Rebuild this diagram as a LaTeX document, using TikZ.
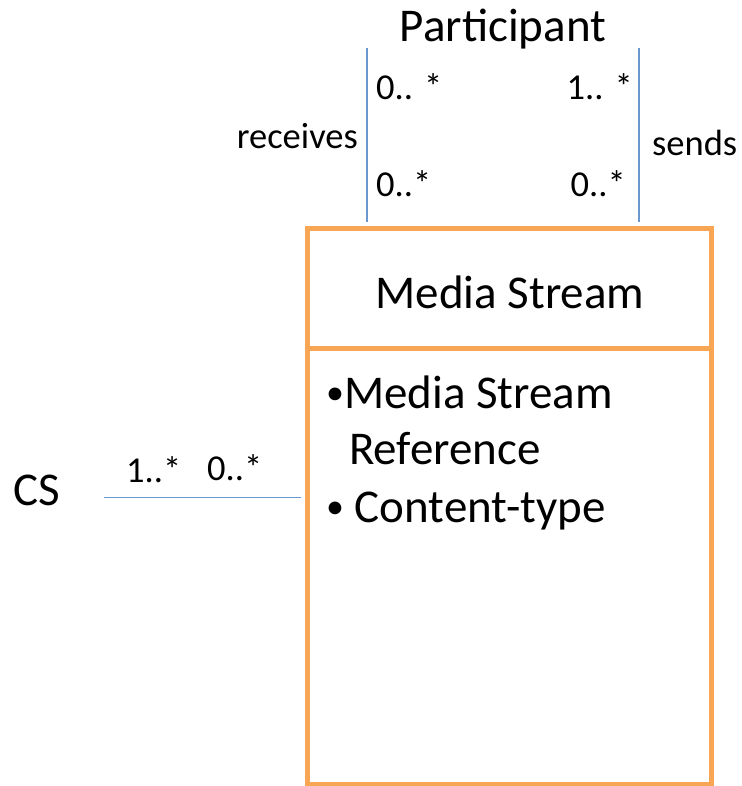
\documentclass[tikz,border=0pt]{standalone}
\usepackage{fontspec}
\setmainfont{Carlito}
\usetikzlibrary{positioning}
\definecolor{boxorange}{RGB}{249,166,84}
\definecolor{linkblue}{RGB}{106,152,206}

\newcommand{\dotitem}{\raisebox{4pt}{\fontsize{36}{36}\selectfont\textbullet}}

\begin{document}
\begin{tikzpicture}[x=1pt, y=-1pt]
      \tikzstyle{classname} = [
        font=\fontsize{47}{52}\selectfont,
        inner sep=0pt
      ]

      \tikzstyle{mult} = [
        font=\fontsize{36.5}{40}\selectfont,
        inner sep=0pt
      ]

      \tikzstyle{classbox} = [
        rectangle,
        draw=boxorange,
        line width=5pt,
        outer sep=0pt,
        minimum width=403.5pt,
        inner sep=0pt
      ]

      \tikzstyle{link} = [
        draw=linkblue,
        line width=1.7pt
      ]

      \useasboundingbox (0,0) rectangle (741,786);

      \node[classbox, minimum height=120pt] (header) at (509.25,288.5) {};
      \node[classbox, minimum height=435.5pt, below=0pt of header] (body) {};

      \node[classname, anchor=base] (title) at (510,308) {Media Stream};
      \node[classname, anchor=base west] (attr1) at (326,408) {\dotitem Media Stream};
      \node[classname, anchor=base west] (attr2) at (349,464) {Reference};
      \node[classname, anchor=base west] (attr3) at (326,522) {\dotitem\ Content-type};

      \node[classname, anchor=base] (participant) at (503,42) {Participant};
      \node[classname, anchor=base west] (cs) at (13,505) {CS};

      \coordinate (recvtop) at (367,48);
      \coordinate (recvbot) at (367,222);
      \coordinate (sendtop) at (639,48);
      \coordinate (sendbot) at (639,222);
      \coordinate (csend) at (104,497.5);

      \draw[link] (recvtop) -- (recvbot);
      \draw[link] (sendtop) -- (sendbot);
      \draw[link, shorten >=7pt] (csend) -- (body.west |- csend);

      \node[mult, anchor=base east] (receives) at (358,149) {receives};
      \node[mult, anchor=base west] (sends) at (652,156) {sends};
      \node[mult, anchor=base west] (recvpart) at (376,100) {0.. *};
      \node[mult, anchor=base west] (recvstream) at (376,197) {0..*};
      \node[mult, anchor=base east] (sendpart) at (633,100) {1.. *};
      \node[mult, anchor=base east] (sendstream) at (626,197) {0..*};
      \node[mult, anchor=base west] (cscard) at (126,482) {1..*};
      \node[mult, anchor=base west] (streamcard) at (207,480) {0..*};
\end{tikzpicture}
\end{document}
